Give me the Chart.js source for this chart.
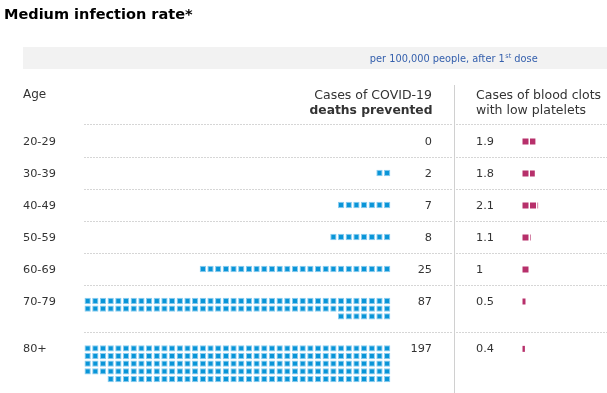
<!DOCTYPE html>
<html>
<head>
<meta charset="utf-8">
<script src="https://cdn.jsdelivr.net/npm/chart.js@4/dist/chart.umd.min.js"></script>
<style>
  html, body { margin: 0; padding: 0; background: #fff; }
  #wrap { width: 607px; height: 393px; }
</style>
</head>
<body>
<div id="wrap"><canvas id="chart" width="607" height="393"></canvas></div>
<script>
// Daten (pro 100.000 Personen, nach 1. Dosis)
const ages = ["20-29", "30-39", "40-49", "50-59", "60-69", "70-79", "80+"];
const deathsPrevented = [0, 2, 7, 8, 25, 87, 197];
const bloodClots = [1.9, 1.8, 2.1, 1.1, 1, 0.5, 0.4];

const titleText = "Medium infection rate*";
const noteText = ["per 100,000 people, after 1", "st", " dose"];
const headAge = "Age";
const headDeaths = ["Cases of COVID-19", "deaths prevented"];
const headClots = ["Cases of blood clots", "with low platelets"];

// Layout (Pixel)
const W = 607, H = 393;
const TOP = 124.5;     // erste Trennlinie
const ROW_H = 32;      // Zeilenhoehe bei einer Quadratreihe
const SUB = 7.68;      // Abstand der Quadrate
const COLS = 40;       // Quadrate pro Reihe
const BLUE_X0 = 84.5;  // linker Rand Spalte 0
const PINK_X0 = 522.5; // linker Rand pinker Quadrate
const PINK_STEP = 7.5;
const FONT = '"DejaVu Sans", Verdana, sans-serif';

// Zeilen-Geometrie aus den Werten ableiten
const groups = [];
let rowTop = TOP;
deathsPrevented.forEach((n) => {
  const rows = Math.max(1, Math.ceil(n / COLS));
  groups.push({ top: rowTop, center: rowTop + 16.5, rows });
  rowTop += ROW_H + (rows - 1) * SUB;
});

const blueBars = [];
deathsPrevented.forEach((n, i) => {
  const g = groups[i];
  for (let r = 0; r < g.rows; r++) {
    const cnt = r < g.rows - 1 ? COLS : n - COLS * (g.rows - 1);
    for (let k = COLS - cnt; k < COLS; k++) {
      blueBars.push({ x: [k, k + 0.82], y: g.center + r * SUB });
    }
  }
});

const pinkBars = [];
bloodClots.forEach((v, i) => {
  for (let u = 0; u < v; u++) {
    const w = Math.min(1, v - u);
    pinkBars.push({ x: [u, u + w * 0.8], y: groups[i].center + 0.5 });
  }
});

const decor = {
  id: "decor",
  beforeDatasetsDraw(chart) {
    const ctx = chart.ctx;
    const y = chart.scales.y;
    ctx.save();
    // grauer Balken
    ctx.fillStyle = "#f2f2f2";
    ctx.fillRect(23, 47, W - 23, 22);
    // Trennlinien
    ctx.strokeStyle = "#d6d6d6";
    ctx.lineWidth = 1;
    ctx.setLineDash([2, 1]);
    groups.forEach((g) => {
      const py = Math.round(y.getPixelForValue(g.top)) + 0.5;
      ctx.beginPath();
      ctx.moveTo(84, py); ctx.lineTo(453, py);
      ctx.moveTo(456, py); ctx.lineTo(W, py);
      ctx.stroke();
    });
    ctx.setLineDash([]);
    ctx.strokeStyle = "#d0d0d0";
    ctx.beginPath();
    ctx.moveTo(454.5, 85); ctx.lineTo(454.5, H);
    ctx.stroke();
    ctx.restore();
  },
  afterDatasetsDraw(chart) {
    const ctx = chart.ctx;
    const y = chart.scales.y;
    ctx.save();
    ctx.textBaseline = "alphabetic";

    ctx.fillStyle = "#000";
    ctx.font = "bold 14.5px " + FONT;
    ctx.textAlign = "left";
    ctx.fillText(titleText, 4, 19);

    // Hinweis mit hochgestelltem "st"
    ctx.fillStyle = "#3560ad";
    ctx.font = "9.8px " + FONT;
    const w1 = ctx.measureText(noteText[0]).width;
    const w3 = ctx.measureText(noteText[2]).width;
    ctx.font = "6.5px " + FONT;
    const w2 = ctx.measureText(noteText[1]).width;
    let nx = 453.5 - (w1 + w2 + w3) / 2;
    ctx.font = "9.8px " + FONT;
    ctx.fillText(noteText[0], nx, 62);
    ctx.font = "6.5px " + FONT;
    ctx.fillText(noteText[1], nx + w1 + 0.5, 58);
    ctx.font = "9.8px " + FONT;
    ctx.fillText(noteText[2], nx + w1 + w2 + 0.5, 62);

    ctx.fillStyle = "#333";
    ctx.font = "12px " + FONT;
    ctx.fillText(headAge, 23, 97.5);
    ctx.font = "12.5px " + FONT;
    ctx.textAlign = "right";
    ctx.fillText(headDeaths[0], 432, 99);
    ctx.font = "bold 12.3px " + FONT;
    ctx.fillText(headDeaths[1], 432.5, 113.5);
    ctx.font = "12.5px " + FONT;
    ctx.textAlign = "left";
    ctx.fillText(headClots[0], 476, 99);
    ctx.fillText(headClots[1], 476, 113.5);

    ctx.font = "11.3px " + FONT;
    ages.forEach((a, i) => {
      const py = y.getPixelForValue(groups[i].center) + 4;
      ctx.textAlign = "left";
      ctx.fillText(a, 23, py);
      ctx.textAlign = "right";
      ctx.fillText(String(deathsPrevented[i]), 432, py);
      ctx.textAlign = "left";
      ctx.fillText(String(bloodClots[i]), 476, py);
    });
    ctx.restore();
  }
};

new Chart(document.getElementById("chart").getContext("2d"), {
  type: "bar",
  data: {
    datasets: [
      {
        data: blueBars,
        xAxisID: "xb",
        yAxisID: "y",
        backgroundColor: "#0995d8",
        borderColor: "#8dcdef",
        borderWidth: 1,
        borderSkipped: false,
        barThickness: 6.3,
        grouped: false,
        inflateAmount: 0
      },
      {
        data: pinkBars,
        xAxisID: "xp",
        yAxisID: "y",
        backgroundColor: "#b7306b",
        borderWidth: 0,
        barThickness: 6,
        grouped: false,
        inflateAmount: 0
      }
    ]
  },
  options: {
    indexAxis: "y",
    responsive: false,
    devicePixelRatio: 1,
    animation: false,
    layout: { padding: 0 },
    scales: {
      y: { type: "linear", reverse: true, offset: false, min: 0, max: H, display: false },
      xb: { type: "linear", axis: "x", offset: false, min: -BLUE_X0 / SUB, max: (W - BLUE_X0) / SUB, display: false },
      xp: { type: "linear", axis: "x", offset: false, min: -PINK_X0 / PINK_STEP, max: (W - PINK_X0) / PINK_STEP, display: false }
    },
    plugins: {
      legend: { display: false },
      tooltip: { enabled: false }
    }
  },
  plugins: [decor]
});
</script>
</body>
</html>
